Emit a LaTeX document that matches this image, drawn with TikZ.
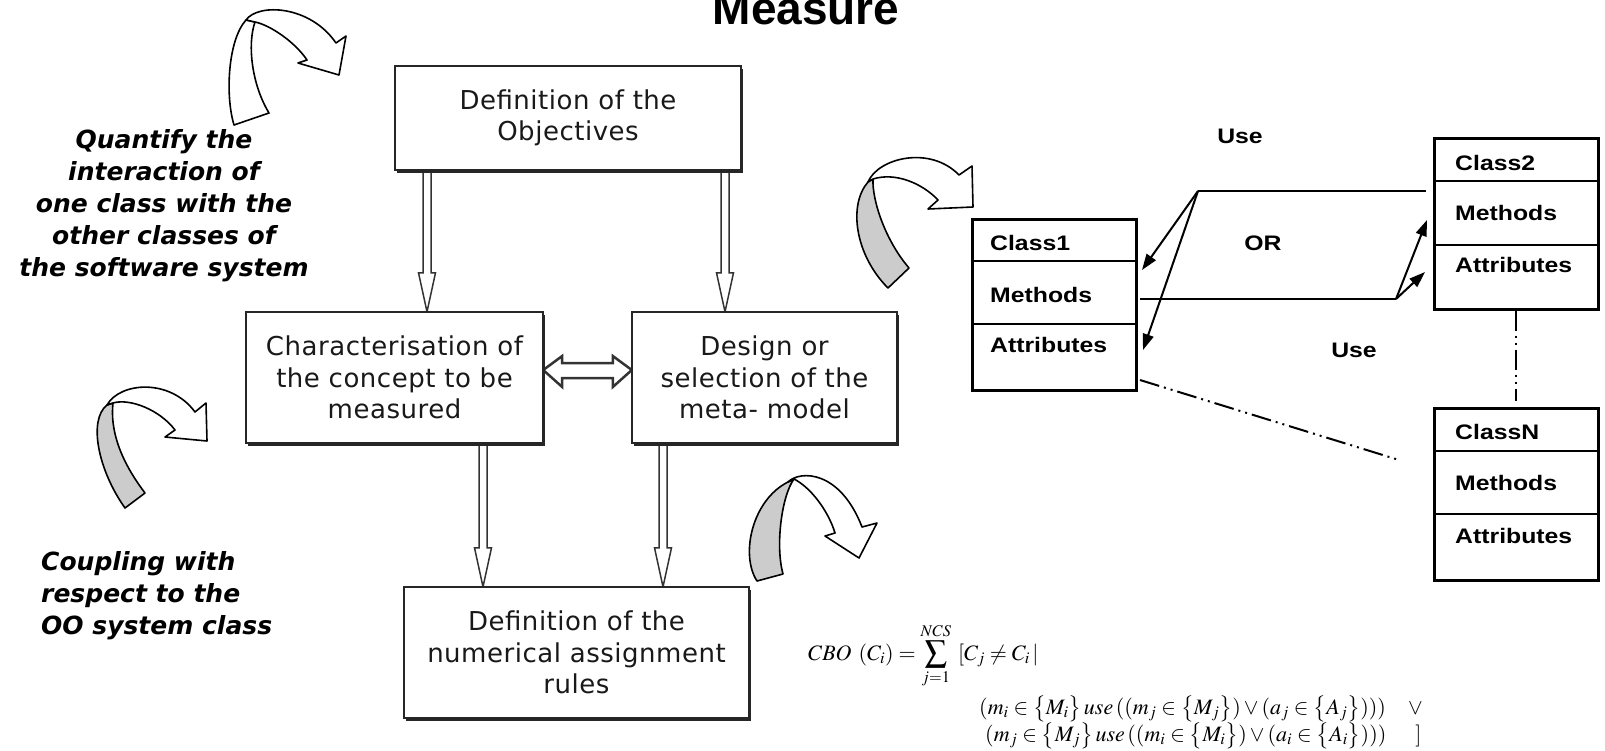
\documentclass[tikz,border=0pt]{standalone}
\usepackage{mathptmx}
\usepackage[no-math]{fontspec}
\setmainfont{DejaVu Sans}
\newfontfamily\boxfont{DejaVu Sans}[LetterSpace=2]
\newfontfamily\notefont{DejaVu Sans}
\newfontfamily\clsfont{Liberation Sans}[FakeStretch=1.18]
\newfontfamily\titlefont{Liberation Sans}
\usetikzlibrary{arrows.meta,shadows,calc}
\tikzset{
  mbox/.style={draw=black!85, line width=2.5pt, fill=white, text=black!90,
    font=\boxfont\fontsize{26}{31.5}\selectfont, align=center, inner sep=0pt,
    drop shadow={shadow xshift=2pt, shadow yshift=-3pt, fill=black!85, opacity=1}},
  note/.style={font=\notefont\bfseries\itshape\fontsize{25}{32}\selectfont, inner sep=0pt},
  hollow/.style={draw=black!80, line width=1.5pt, fill=white, line join=miter},
  hollowh/.style={draw=black!80, line width=2.5pt, fill=white, line join=miter},
  carrow/.style={draw=black, line width=1.6pt, line join=round},
  clsbox/.style={draw=black, line width=2.5pt, fill=white, minimum width=164pt, inner sep=0pt},
  clsdiv/.style={draw=black, line width=2.5pt},
  clstxt/.style={font=\clsfont\bfseries\fontsize{21}{21}\selectfont, anchor=west, inner sep=0pt},
  lbl/.style={font=\clsfont\bfseries\fontsize{21}{21}\selectfont, inner sep=0pt},
  conn/.style={line width=2pt},
  carr/.style={conn, -{Triangle[length=16pt,width=11pt]}},
  dashdot/.style={line width=2pt, dash pattern=on 20pt off 5pt on 2pt off 5pt on 2pt off 5pt},
  frm/.style={font=\fontsize{22}{26}\selectfont, inner sep=0pt}
}
\newcommand\hollowdown[2]{%
  \path #1 coordinate (hA) #2 coordinate (hB);
  \filldraw[hollow] ([xshift=-4pt]hA) -- ([xshift=-4pt,yshift=39pt]hB) -- ([xshift=-8.5pt,yshift=39pt]hB) -- (hB) -- ([xshift=8.5pt,yshift=39pt]hB) -- ([xshift=4pt,yshift=39pt]hB) -- ([xshift=4pt]hA);
}
\begin{document}
\begin{tikzpicture}[x=1pt,y=-1pt]
\useasboundingbox (0,0) rectangle (1605,750);

% title
\node[font=\titlefont\bfseries\fontsize{46}{46}\selectfont, anchor=base, inner sep=0pt] (title) at (806,24) {Measure};

% column coordinates for hollow arrows
\coordinate (xa) at (427,0);
\coordinate (xb) at (725,0);
\coordinate (xc) at (483,0);
\coordinate (xd) at (663,0);

% main boxes (positions)
\path (568,118) coordinate (pobj) (394.5,377.5) coordinate (pchar) (764.5,377.5) coordinate (pdes) (576.5,652.5) coordinate (prul);
\node[minimum width=346pt, minimum height=104pt, inner sep=0pt] (obj0) at (pobj) {};
\node[minimum width=297pt, minimum height=131pt, inner sep=0pt] (char0) at (pchar) {};
\node[minimum width=265pt, minimum height=131pt, inner sep=0pt] (des0) at (pdes) {};
\node[minimum width=345pt, minimum height=131pt, inner sep=0pt] (rul0) at (prul) {};

% hollow arrows (drawn under boxes)
\hollowdown{(obj0.south -| xa)}{(char0.north -| xa)}
\hollowdown{(obj0.south -| xb)}{(des0.north -| xb)}
\hollowdown{(char0.south -| xc)}{(rul0.north -| xc)}
\hollowdown{(des0.south -| xd)}{(rul0.north -| xd)}
\path ([yshift=7.5pt]char0.east) coordinate (lA) ([yshift=7.5pt]des0.west) coordinate (lB);
\filldraw[hollowh] (lA) -- ([xshift=19pt,yshift=14pt]lA) -- ([xshift=19pt,yshift=7pt]lA) -- ([xshift=-19pt,yshift=7pt]lB) -- ([xshift=-19pt,yshift=14pt]lB) -- (lB) -- ([xshift=-19pt,yshift=-17pt]lB) -- ([xshift=-19pt,yshift=-8pt]lB) -- ([xshift=19pt,yshift=-8pt]lA) -- ([xshift=19pt,yshift=-17pt]lA) -- cycle;

\node[mbox, minimum width=346pt, minimum height=104pt] (obj) at (pobj) {Definition of the\\Objectives};
\node[mbox, minimum width=297pt, minimum height=131pt] (char) at (pchar) {Characterisation of\\the concept to be\\measured};
\node[mbox, minimum width=265pt, minimum height=131pt] (des) at (pdes) {Design or\\selection of the\\meta- model};
\node[mbox, minimum width=345pt, minimum height=131pt] (rul) at (prul) {Definition of the\\numerical assignment\\rules};

% notes
\node[note, align=center] (quant) at (164,206) {Quantify the\\interaction of\\one class with the\\other classes of\\the software system};
\node[note, align=left, anchor=west] (coup) at (41,596) {Coupling with\\respect to the\\OO system class};

% curved block arrows
\filldraw[carrow, fill=white] (234,125) .. controls (225,95) and (228,40) .. (246,20) -- (255,22) .. controls (247,45) and (252,85) .. (269,113) -- cycle;
\filldraw[carrow, fill=white] (246,20) .. controls (258,3) and (310,5) .. (336,43) -- (346,36) -- (339,75) -- (298,63) -- (307,60) .. controls (295,42) and (270,25) .. (255,22) -- cycle;

\filldraw[carrow, fill=black!20] (125,508) .. controls (98,470) and (88,420) .. (107,405) -- (113,403) .. controls (110,430) and (120,460) .. (145,493) -- cycle;
\filldraw[carrow, fill=white] (107,405) .. controls (120,382) and (170,378) .. (195,412) -- (206,403) -- (207,441) -- (165,437) -- (175,430) .. controls (160,410) and (130,398) .. (113,403) -- cycle;

\filldraw[carrow, fill=black!20] (888,288) .. controls (855,255) and (848,205) .. (868,182) -- (873,179) .. controls (872,200) and (885,240) .. (909,268) -- cycle;
\filldraw[carrow, fill=white] (868,182) .. controls (878,158) and (930,145) .. (959,175) -- (972,166) -- (973,207) -- (928,209) -- (938,200) .. controls (922,183) and (895,172) .. (873,179) -- cycle;

\filldraw[carrow, fill=black!20] (757,581) .. controls (740,555) and (752,500) .. (788,482) -- (794,479) .. controls (782,495) and (775,545) .. (783,574) -- cycle;
\filldraw[carrow, fill=white] (788,482) .. controls (800,470) and (840,470) .. (862,527) -- (877,523) -- (859,558) -- (825,536) -- (835,533) .. controls (828,510) and (810,487) .. (794,479) -- cycle;

% class boxes
\node[clsbox, minimum height=171pt, anchor=north west] (c1) at (971,218) {};
\draw[clsdiv] ([yshift=-43pt]c1.north west) -- ([yshift=-43pt]c1.north east);
\draw[clsdiv] ([yshift=-106pt]c1.north west) -- ([yshift=-106pt]c1.north east);
\node[clstxt] (c1n) at (990,243) {Class1};
\node[clstxt] (c1m) at (990,295) {Methods};
\node[clstxt] (c1a) at (990,345) {Attributes};

\node[clsbox, minimum height=171pt, anchor=north west] (c2) at (1433,137) {};
\draw[clsdiv] ([yshift=-44pt]c2.north west) -- ([yshift=-44pt]c2.north east);
\draw[clsdiv] ([yshift=-108pt]c2.north west) -- ([yshift=-108pt]c2.north east);
\node[clstxt] (c2n) at (1455,163) {Class2};
\node[clstxt] (c2m) at (1455,213) {Methods};
\node[clstxt] (c2a) at (1455,265) {Attributes};

\node[clsbox, minimum height=172pt, anchor=north west] (cN) at (1433,407) {};
\draw[clsdiv] ([yshift=-44pt]cN.north west) -- ([yshift=-44pt]cN.north east);
\draw[clsdiv] ([yshift=-107pt]cN.north west) -- ([yshift=-107pt]cN.north east);
\node[clstxt] (cNn) at (1455,432) {ClassN};
\node[clstxt] (cNm) at (1455,483) {Methods};
\node[clstxt] (cNa) at (1455,536) {Attributes};

% connectors between classes
\coordinate (u1) at (1426,191);
\coordinate (u2) at (1198,191);
\coordinate (t1) at (1142,270);
\coordinate (t2) at (1143,350);
\draw[conn] (u1) -- (u2);
\draw[carr] (u2) -- (t1);
\draw[carr] (u2) -- (t2);
\coordinate (v1) at (1140,299);
\coordinate (v2) at (1396,299);
\coordinate (s1) at (1427,220);
\coordinate (s2) at (1425,272);
\draw[conn] (v1) -- (v2);
\draw[carr] (v2) -- (s1);
\draw[carr] (v2) -- (s2);

\node[lbl] (use1) at (1240,136) {Use};
\node[lbl] (or) at (1263,243) {OR};
\node[lbl] (use2) at (1354,350) {Use};

\draw[dashdot, shorten >=6pt] (c2.south) -- (cN.north);
\coordinate (d1) at (1140,380);
\coordinate (d2) at (1399,460);
\draw[dashdot] (d1) -- (d2);

% formula
\node[frm, anchor=west] (f1) at (808,656) {$\displaystyle CBO\ (C_i) = \sum_{j=1}^{NCS}\ [C_j \neq C_i \,|$};
\node[frm, anchor=base west] (f2) at (979,714) {$(m_i \in \bigl\{M_i\bigr\}\,use\,((m_j \in \bigl\{M_j\bigr\}) \vee (a_j \in \bigl\{A_j\bigr\})))\quad\vee$};
\node[frm, anchor=base west] (f3) at (985,741) {$(m_j \in \bigl\{M_j\bigr\}\,use\,((m_i \in \bigl\{M_i\bigr\}) \vee (a_i \in \bigl\{A_i\bigr\})))\quad\ ]$};
\end{tikzpicture}
\end{document}
